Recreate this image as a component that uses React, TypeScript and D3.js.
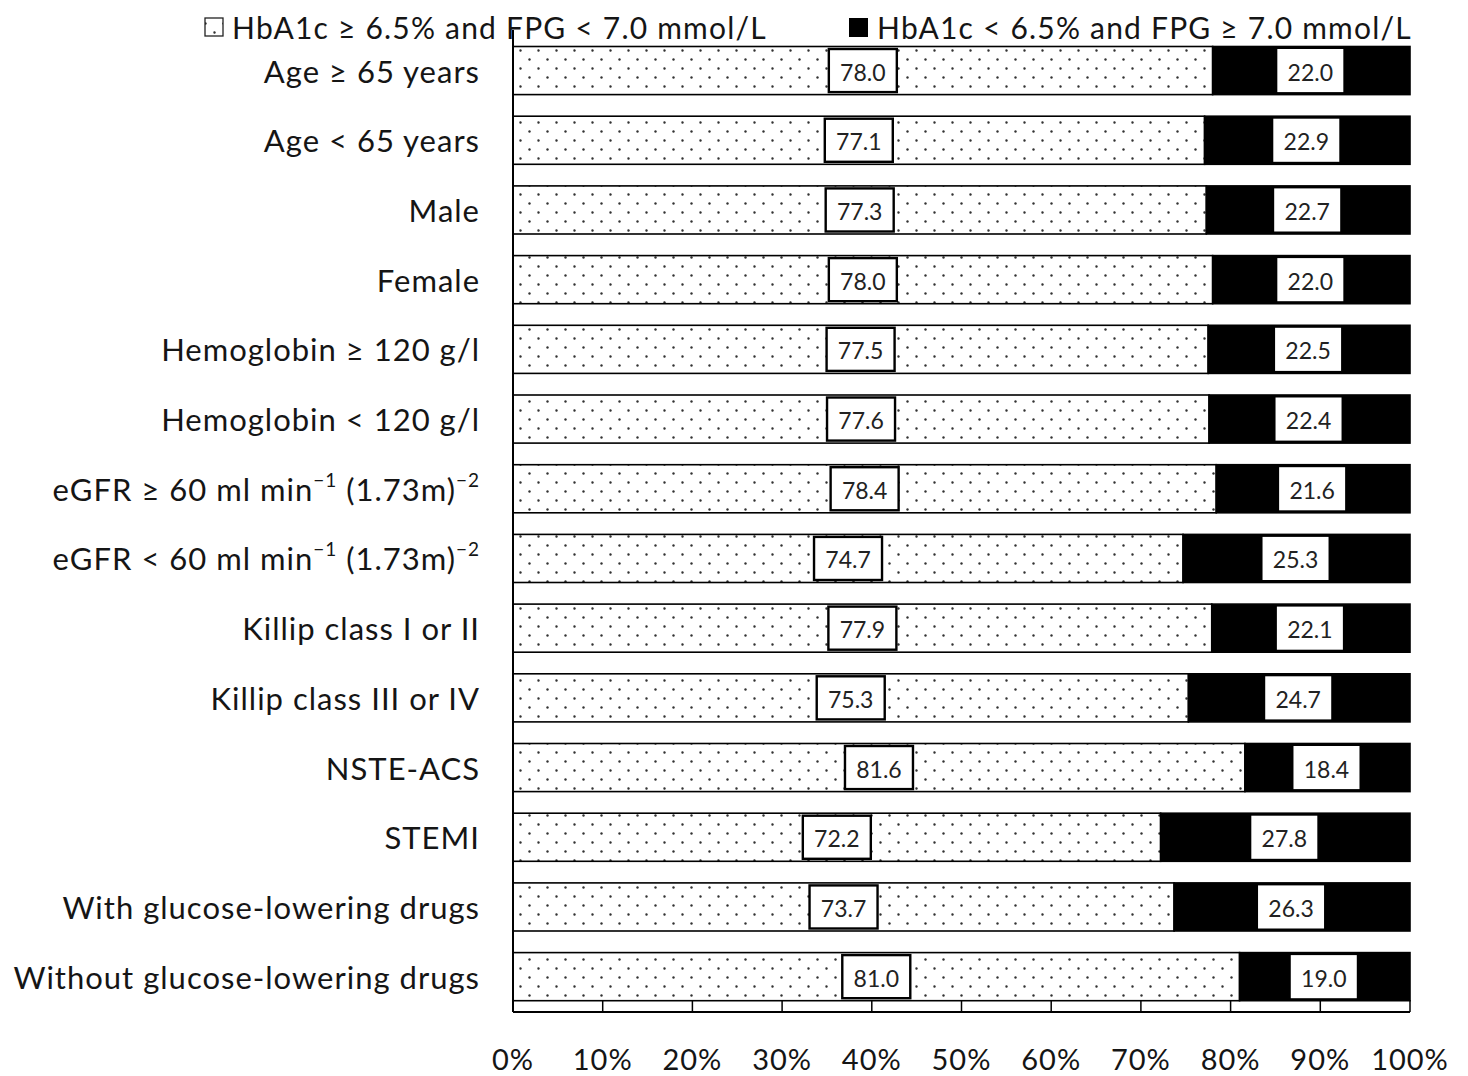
import React from "react";
import * as d3 from "d3";

const categories = [
  "Age ≥ 65 years",
  "Age < 65 years",
  "Male",
  "Female",
  "Hemoglobin ≥ 120 g/l",
  "Hemoglobin < 120 g/l",
  "eGFR ≥ 60 ml min|-1| (1.73m)|-2",
  "eGFR < 60 ml min|-1| (1.73m)|-2",
  "Killip class I or II",
  "Killip class III or IV",
  "NSTE-ACS",
  "STEMI",
  "With glucose-lowering drugs",
  "Without glucose-lowering drugs",
];
const hba1cOnly = [78.0, 77.1, 77.3, 78.0, 77.5, 77.6, 78.4, 74.7, 77.9, 75.3, 81.6, 72.2, 73.7, 81.0];
const fpgOnly = [22.0, 22.9, 22.7, 22.0, 22.5, 22.4, 21.6, 25.3, 22.1, 24.7, 18.4, 27.8, 26.3, 19.0];
const ticks = [0, 10, 20, 30, 40, 50, 60, 70, 80, 90, 100];
const legendLabels = ["HbA1c ≥ 6.5% and FPG < 7.0 mmol/L", "HbA1c < 6.5% and FPG ≥ 7.0 mmol/L"];

const W = 1468;
const H = 1076;
const FONT = "Lato, 'Open Sans', sans-serif";

function Label({ text, x, y }: { text: string; x: number; y: number }) {
  const parts = text.split("|");
  return (
    <text x={x} y={y} textAnchor="end" dominantBaseline="central" fontFamily={FONT} fontSize={31} letterSpacing={1} fill="#151515">
      {parts.map((p, i) =>
        i % 2 === 1 ? (
          <tspan key={i} fontSize={19} dy={-10}>{p.replace("-", "\u2212")}</tspan>
        ) : (
          <tspan key={i} dy={i === 0 ? 0 : 10}>{p}</tspan>
        )
      )}
    </text>
  );
}

export default function App() {
  const x = d3.scaleLinear().domain([0, 100]).range([513, 1410]);
  const y = d3.scaleBand<number>().domain(d3.range(categories.length)).range([35.7, 1011.5]).paddingInner(0.31).paddingOuter(0.155);
  const bh = y.bandwidth();
  const boxW = 68;
  const boxH = bh - 5;

  return (
    <svg width={W} height={H} style={{ position: "absolute", left: 0, top: 0, background: "#fff" }}>
      <defs>
        <pattern id="dots" patternUnits="userSpaceOnUse" width={18} height={18} x={520} y={50}>
          <rect width={18} height={18} fill="#fff" />
          <circle cx={0.5} cy={0.5} r={1.2} fill="#333" />
          <circle cx={9.5} cy={9.5} r={1.2} fill="#333" />
          <circle cx={18.5} cy={0.5} r={1.2} fill="#333" />
          <circle cx={0.5} cy={18.5} r={1.2} fill="#333" />
          <circle cx={18.5} cy={18.5} r={1.2} fill="#333" />
        </pattern>
      </defs>
      <rect width={W} height={H} fill="#fff" />

      {/* legend */}
      <rect x={205} y={18} width={18} height={18} fill="url(#dots)" stroke="#222" strokeWidth={1.3} />
      <text x={232} y={27} dominantBaseline="central" fontFamily={FONT} fontSize={30} letterSpacing={1.2} fill="#151515">{legendLabels[0]}</text>
      <rect x={849} y={18} width={19} height={19} fill="#000" />
      <text x={877} y={27} dominantBaseline="central" fontFamily={FONT} fontSize={30} letterSpacing={1.2} fill="#151515">{legendLabels[1]}</text>

      {/* bars */}
      {categories.map((c, i) => {
        const y0 = y(i)!;
        const a = hba1cOnly[i];
        const b = fpgOnly[i];
        const xa0 = x(0), xa1 = x(a), xb1 = x(a + b);
        const cy = y0 + bh / 2;
        const ma = (xa0 + xa1) / 2;
        const mb = (xa1 + xb1) / 2;
        return (
          <g key={i}>
            <rect x={xa0} y={y0} width={xa1 - xa0} height={bh} fill="url(#dots)" stroke="#000" strokeWidth={1.6} />
            <rect x={xa1} y={y0} width={xb1 - xa1} height={bh} fill="#000" stroke="#000" strokeWidth={1.6} />
            <rect x={ma - boxW / 2} y={cy - boxH / 2} width={boxW} height={boxH} fill="#fff" stroke="#000" strokeWidth={2.4} />
            <text x={ma} y={cy + 1} textAnchor="middle" dominantBaseline="central" fontFamily={FONT} fontSize={23} fill="#222">{a.toFixed(1)}</text>
            <rect x={mb - boxW / 2} y={cy - boxH / 2} width={boxW - 2} height={boxH} fill="#fff" stroke="none" />
            <text x={mb - 1} y={cy + 1} textAnchor="middle" dominantBaseline="central" fontFamily={FONT} fontSize={23} fill="#222">{b.toFixed(1)}</text>
            <Label text={c} x={480} y={cy} />
          </g>
        );
      })}

      {/* axes */}
      <line x1={513} x2={513} y1={30} y2={1012} stroke="#000" strokeWidth={2} />
      <line x1={513} x2={1410} y1={1012} y2={1012} stroke="#000" strokeWidth={2} />
      {ticks.map((t) => (
        <g key={t}>
          <line x1={x(t)} x2={x(t)} y1={1000} y2={1012} stroke="#000" strokeWidth={1.5} />
          <text x={x(t)} y={1058} textAnchor="middle" dominantBaseline="central" fontFamily={FONT} fontSize={29} letterSpacing={1} fill="#151515">{t}%</text>
        </g>
      ))}
    </svg>
  );
}
